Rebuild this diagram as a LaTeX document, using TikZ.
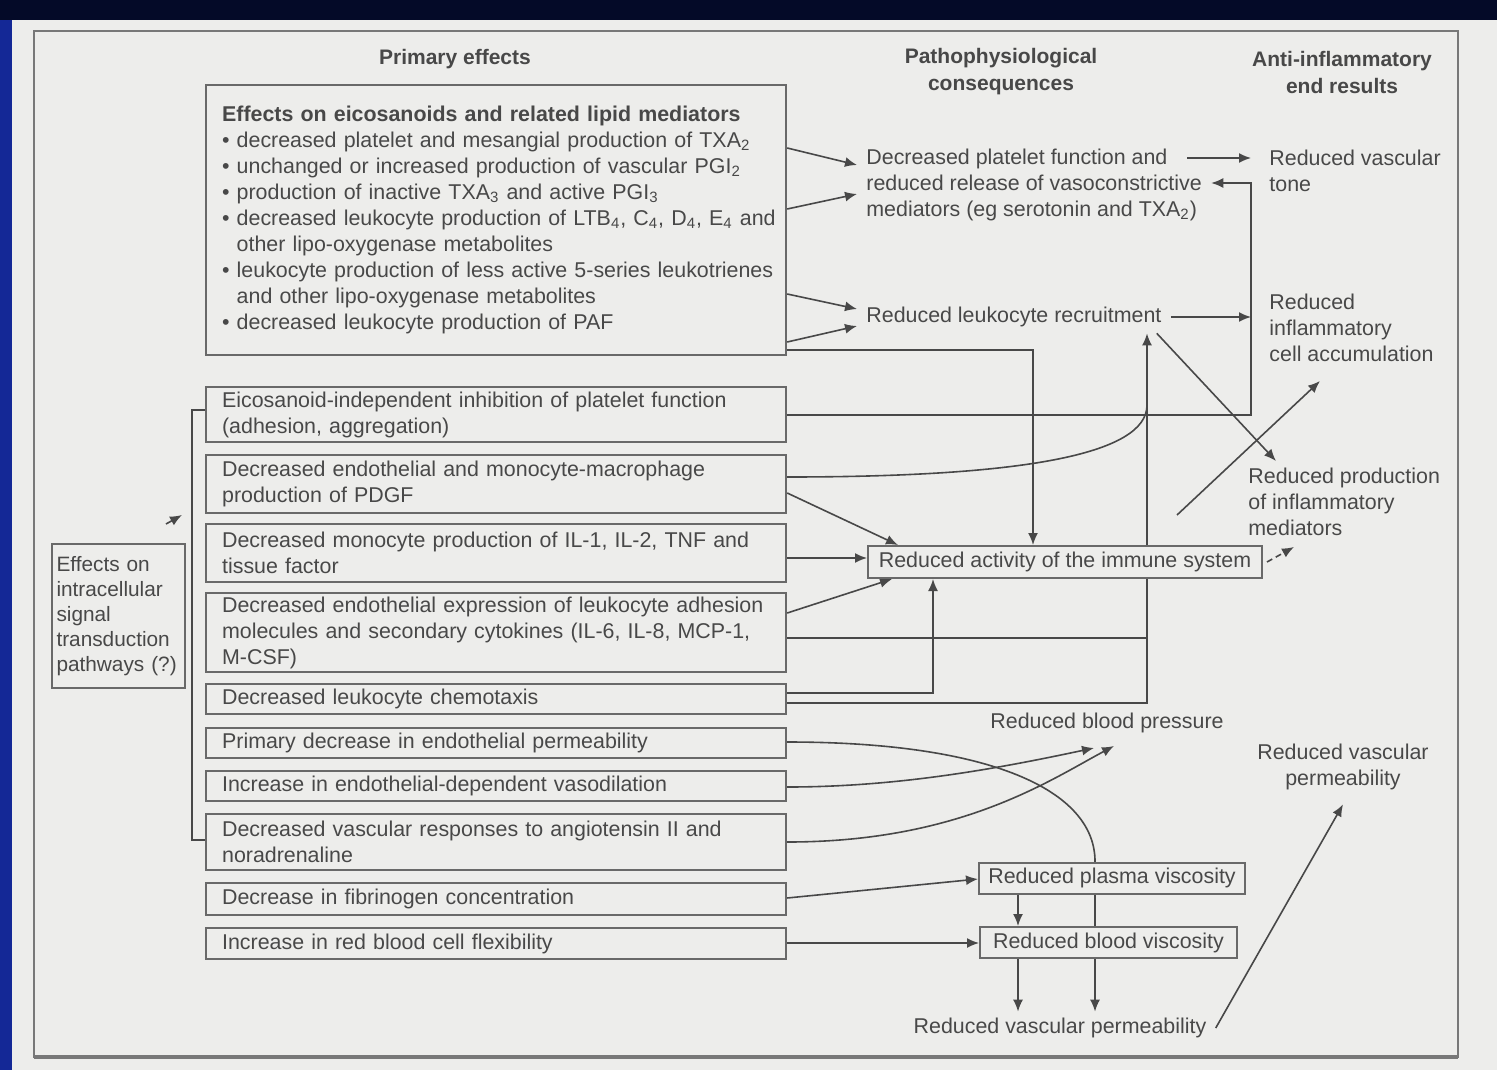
\documentclass[tikz,border=0pt]{standalone}
\usepackage{fontspec}
\setmainfont{Liberation Sans}
\usetikzlibrary{arrows.meta}
\definecolor{navy}{RGB}{4,10,40}
\definecolor{bluestrip}{RGB}{20,40,150}
\definecolor{panel}{RGB}{237,237,235}
\definecolor{ink}{RGB}{72,72,72}
\definecolor{edge}{RGB}{105,105,105}
\definecolor{framec}{RGB}{120,120,120}
\pgfdeclarelayer{back}
\pgfdeclarelayer{lines}
\pgfsetlayers{back,lines,main}
\tikzset{
  lbox/.style={draw=edge, line width=1.1pt, fill=panel, text width=274pt, inner xsep=8pt, inner ysep=1pt, align=left, anchor=west},
  tbox/.style={draw=edge, line width=1pt, fill=panel, inner xsep=4pt, inner ysep=2pt},
  ptext/.style={align=left, inner xsep=4.5pt, inner ysep=3pt, anchor=west},
  rtext/.style={align=left, inner xsep=9pt, inner ysep=3pt, anchor=west},
  head/.style={font=\bfseries\fontsize{10.5}{13.5}\selectfont, align=center},
  conn/.style={draw=ink, line width=0.8pt},
  arr/.style={conn, -{Latex[length=6pt,width=5pt]}},
}
\begin{document}
\begin{tikzpicture}[x=0.5pt,y=-0.5pt, font=\fontsize{10.7}{13}\selectfont, text=ink]
\useasboundingbox (0,0) rectangle (1497,1070);
\begin{pgfonlayer}{back}
  \fill[navy] (0,0) rectangle (1497,1070);
  \fill[bluestrip] (0,20) rectangle (12,1070);
  \fill[panel] (12,20) rectangle (1497,1070);
  \draw[framec, line width=1pt] (34,31) rectangle (1458,1057);
  \draw[framec, line width=2pt] (34,1057) -- (1458,1057);
\end{pgfonlayer}

% headers
\node[head] (h1) at (455,59) {Primary effects};
\node[head] (h2) at (1001,72) {Pathophysiological\\consequences};
\node[head] (h3) at (1342,72) {Anti-inflammatory\\end results};

% primary effects boxes
\node[lbox, minimum height=135pt] (b1) at (205,220) {\textbf{Effects on eicosanoids and related lipid mediators}\\
\mbox{\textbullet\ decreased platelet and mesangial production of TXA\textsubscript{2}}\\
\mbox{\textbullet\ unchanged or increased production of vascular PGI\textsubscript{2}}\\
\mbox{\textbullet\ production of inactive TXA\textsubscript{3} and active PGI\textsubscript{3}}\\
\mbox{\textbullet\ decreased leukocyte production of LTB\textsubscript{4}, C\textsubscript{4}, D\textsubscript{4}, E\textsubscript{4} and}\\
\mbox{\phantom{\textbullet\ }other lipo-oxygenase metabolites}\\
\mbox{\textbullet\ leukocyte production of less active 5-series leukotrienes}\\
\mbox{\phantom{\textbullet\ }and other lipo-oxygenase metabolites}\\
\mbox{\textbullet\ decreased leukocyte production of PAF}};
\node[lbox, minimum height=27.5pt] (b2) at (205,414.5) {Eicosanoid-independent inhibition of platelet function\\(adhesion, aggregation)};
\node[lbox, minimum height=29pt] (b3) at (205,484) {Decreased endothelial and monocyte-macrophage\\production of PDGF};
\node[lbox, minimum height=29pt] (b4) at (205,553) {\mbox{Decreased monocyte production of IL-1, IL-2, TNF and}\\tissue factor};
\node[lbox, minimum height=39.5pt] (b5) at (205,632.5) {\mbox{Decreased endothelial expression of leukocyte adhesion}\\molecules and secondary cytokines (IL-6, IL-8, MCP-1,\\M-CSF)};
\node[lbox, minimum height=15pt] (b6) at (205,699) {Decreased leukocyte chemotaxis};
\node[lbox, minimum height=15pt] (b7) at (205,743) {Primary decrease in endothelial permeability};
\node[lbox, minimum height=15pt] (b8) at (205,786) {Increase in endothelial-dependent vasodilation};
\node[lbox, minimum height=28pt] (b9) at (205,842) {Decreased vascular responses to angiotensin II and\\noradrenaline};
\node[lbox, minimum height=16pt] (b10) at (205,899) {Decrease in fibrinogen concentration};
\node[lbox, minimum height=15.5pt] (b11) at (205,943.5) {Increase in red blood cell flexibility};

\node[draw=edge, line width=1pt, fill=panel, align=left, anchor=north west, text width=62pt, inner xsep=2.25pt, inner ysep=3pt, minimum height=72pt, font=\fontsize{10.4}{12.5}\selectfont] (sig) at (51,543) {Effects on\\intracellular\\signal\\transduction\\\mbox{pathways (?)}};

% pathophysiological consequences
\node[ptext] (plat) at (857,185) {Decreased platelet function and\\reduced release of vasoconstrictive\\mediators (eg serotonin and TXA\textsubscript{2})};
\node[ptext] (recruit) at (857,317) {Reduced leukocyte recruitment};
\node[tbox, minimum width=197pt, minimum height=16pt] (immune) at (1065,562) {Reduced activity of the immune system};
\node[ptext, anchor=center] (bp) at (1107,723) {Reduced blood pressure};
\node[tbox, minimum width=133pt, minimum height=15.5pt] (plasma) at (1112,878) {Reduced plasma viscosity};
\node[tbox, minimum width=128.5pt, minimum height=15.5pt] (blood) at (1108.5,942.5) {Reduced blood viscosity};
\node[ptext, anchor=center] (vperm) at (1060,1028) {Reduced vascular permeability};

% anti-inflammatory end results
\node[rtext] (tone) at (1251,171) {Reduced vascular\\tone};
\node[rtext] (infl) at (1251,328) {Reduced\\inflammatory\\cell accumulation};
\node[ptext] (prod) at (1239,502) {Reduced production\\of inflammatory\\mediators};
\node[ptext, align=center, anchor=center] (vperm2) at (1343,767) {Reduced vascular\\permeability};

% helper coordinates
\coordinate (xJ) at (1147,0);
\coordinate (xI) at (1033,0);
\coordinate (xC) at (933,0);
\coordinate (xP) at (1095,0);
\coordinate (xV) at (1018,0);
\coordinate (prodIn1) at (1276,461);
\coordinate (prodIn2) at (1294,547);
\coordinate (immOut) at (1177,515);
\coordinate (inflIn) at (1320,381);
\coordinate (bpIn1) at (1094,748);
\coordinate (bpIn2) at (1114,746);
\coordinate (sigA) at (166,524);
\coordinate (sigB) at (182,515);

\begin{pgfonlayer}{lines}
  % bracket
  \draw[conn] (b2.west |- 0,410) -| (192,840) -- (b9.west |- 0,840);
  \draw[arr] (sigA) -- (sigB);
  % eicosanoids
  \draw[arr] (b1.east |- 0,148) -- (plat.west |- 0,165);
  \draw[arr] (b1.east |- 0,209) -- (plat.west |- 0,194);
  \draw[arr] (b1.east |- 0,294) -- (recruit.west |- 0,309);
  \draw[arr] (b1.east |- 0,342) -- (recruit.west |- 0,326);
  \draw[arr] (b1.east |- 0,350) -| (xI |- immune.north);
  % platelet loop
  \draw[arr] ([xshift=-12pt]plat.east |- 0,158) -- (tone.west |- 0,158);
  \draw[arr] (b2.east |- 0,415) -| (tone.west |- 0,183) -- (plat.east |- 0,183);
  % recruitment
  \draw[arr] (recruit.east) -- (infl.west |- recruit.east);
  \draw[arr] ([xshift=-7pt]recruit.south east) -- (prodIn1);
  \draw[arr] (b6.east |- 0,703) -| (xJ |- recruit.south);
  \draw[conn] (b3.east |- 0,477) .. controls (1020,477) and (1147,455) .. (xJ |- 0,405);
  \draw[conn] (b5.east |- 0,638) -- (xJ |- 0,638);
  % immune system
  \draw[arr] (b3.east |- 0,493) -- (898,0 |- immune.north);
  \draw[arr] (b4.east |- 0,558) -- (immune.west |- 0,558);
  \draw[arr] (b5.east |- 0,613) -- (892,0 |- immune.south);
  \draw[arr] (b6.east |- 0,693) -| (xC |- immune.south);
  \draw[arr, dash pattern=on 3pt off 2pt] ([xshift=2pt]immune.east) -- (prodIn2);
  \draw[arr] (immOut) -- (inflIn);
  % haemodynamics
  \draw[arr] (b7.east |- 0,742) .. controls (990,742) and (1095,790) .. (xP |- plasma.north) -- (xP |- vperm.north);
  \draw[arr] (b8.east |- 0,787) .. controls (900,787) and (1000,768) .. (bpIn1);
  \draw[arr] (b9.east |- 0,842) .. controls (960,842) and (1050,780) .. (bpIn2);
  \draw[arr] (b10.east |- 0,898) -- (plasma.west |- 0,879);
  \draw[arr] (b11.east |- 0,943) -- (blood.west |- 0,943);
  \draw[arr] (xV |- plasma.south) -- (xV |- blood.north);
  \draw[arr] (xV |- blood.south) -- (xV |- vperm.north);
  \draw[arr] (vperm.east) -- ([yshift=-4pt]vperm2.south);
\end{pgfonlayer}
\end{tikzpicture}
\end{document}
